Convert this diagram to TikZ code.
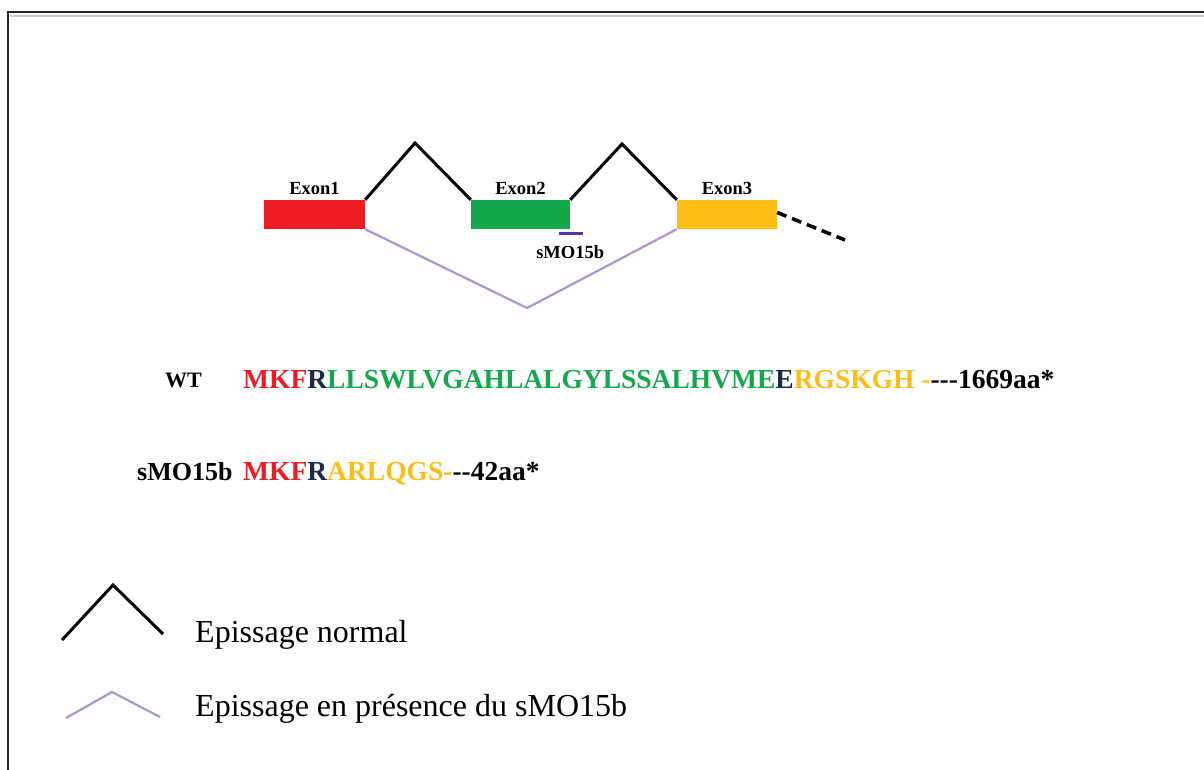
\documentclass[tikz,border=0pt]{standalone}
\usepackage{fontspec}
\setmainfont{Liberation Serif}
\usetikzlibrary{positioning}
\definecolor{exred}{RGB}{237,28,36}
\definecolor{exgreen}{RGB}{20,168,76}
\definecolor{exgold}{RGB}{252,190,20}
\definecolor{exnavy}{RGB}{28,40,72}
\definecolor{skippurple}{RGB}{172,150,204}
\definecolor{mopurple}{RGB}{88,56,148}
\newcommand{\hy}{-\kern0pt}
\tikzset{
    exon/.style={
        inner sep=0pt,
        minimum height=29pt
    },
    exlbl/.style={
        font=\fontsize{18.5}{20}\selectfont\bfseries,
        inner sep=0pt
    },
    splice/.style={
        line width=3pt,
        black
    },
    skipped/.style={
        line width=2.2pt,
        skippurple
    },
    seq/.style={
        font=\fontsize{27.5}{30}\selectfont\bfseries,
        anchor=base west,
        inner sep=0pt
    },
    legend/.style={
        font=\fontsize{32}{36}\selectfont,
        anchor=base west,
        inner sep=0pt
    }
}

\begin{document}
\begin{tikzpicture}[x=1pt,y=-1pt]
\useasboundingbox (0,0) rectangle (1204,770);

% frame
\draw[line width=2.5pt, black!85] (8,770) -- (8,12) -- (1204,12);
\draw[line width=2pt, black!20] (10,16.5) -- (1204,16.5);

% exons
\node[exon, fill=exred, minimum width=101pt] (ex1) at (314.5,214.5) {};
\node[exon, fill=exgreen, minimum width=99pt] (ex2) at (520.5,214.5) {};
\node[exon, fill=exgold, minimum width=100pt] (ex3) at (727,214.5) {};

\node[exlbl, above=5pt of ex1] (lbl1) {Exon1};
\node[exlbl, above=5pt of ex2] (lbl2) {Exon2};
\node[exlbl, above=5pt of ex3] (lbl3) {Exon3};

\coordinate (top1) at (415,143);
\coordinate (top2) at (622,144);
\coordinate (skipbot) at (527,308);
\coordinate (tailend) at (845,240);

\draw[splice] (ex1.north east) -- (top1) -- (ex2.north west);
\draw[splice] (ex2.north east) -- (top2) -- (ex3.north west);
\draw[skipped] (ex1.south east) -- (skipbot) -- (ex3.south west);
\draw[line width=3.5pt, dash pattern=on 10pt off 6pt]
    (ex3.east) ++(0,-2) coordinate (tailstart) -- (tailend);

% morpholino
\coordinate (moa) at (559,233.5);
\coordinate (mob) at (583,233.5);
\draw[line width=2.5pt, mopurple] (moa) -- (mob);
\node[exlbl, below=16pt of ex2.south east, anchor=north] (molbl) {sMO15b};

% proteins
\node[seq, font=\fontsize{22}{24}\selectfont\bfseries] (wt) at (165,387) {WT};
\node[seq] (wtseq) at (243,388) {\textcolor{exred}{MKF}\textcolor{exnavy}{R}%
\textcolor{exgreen}{LLSWLVGAHLALGYLSSALHVME}\textcolor{exnavy}{E}%
\textcolor{exgold}{RGSKGH \hy}\hy\hy\hy1669aa*};
\node[seq, font=\fontsize{26}{28}\selectfont\bfseries] (mo) at (137,480) {sMO15b};
\node[seq] (moseq) at (243,480) {\textcolor{exred}{MKF}\textcolor{exnavy}{R}%
\textcolor{exgold}{ARLQGS\hy}\hy\hy42aa*};

% legend
\coordinate (n1) at (62,640);
\coordinate (n2) at (113,585);
\coordinate (n3) at (163,634);
\draw[splice] (n1) -- (n2) -- (n3);
\coordinate (s1) at (66,718);
\coordinate (s2) at (112,692);
\coordinate (s3) at (160,717);
\draw[skipped] (s1) -- (s2) -- (s3);
\node[legend] (lgnormal) at (195,642) {Epissage normal};
\node[legend] (lgmo) at (195,716) {Epissage en présence du sMO15b};

\end{tikzpicture}
\end{document}
